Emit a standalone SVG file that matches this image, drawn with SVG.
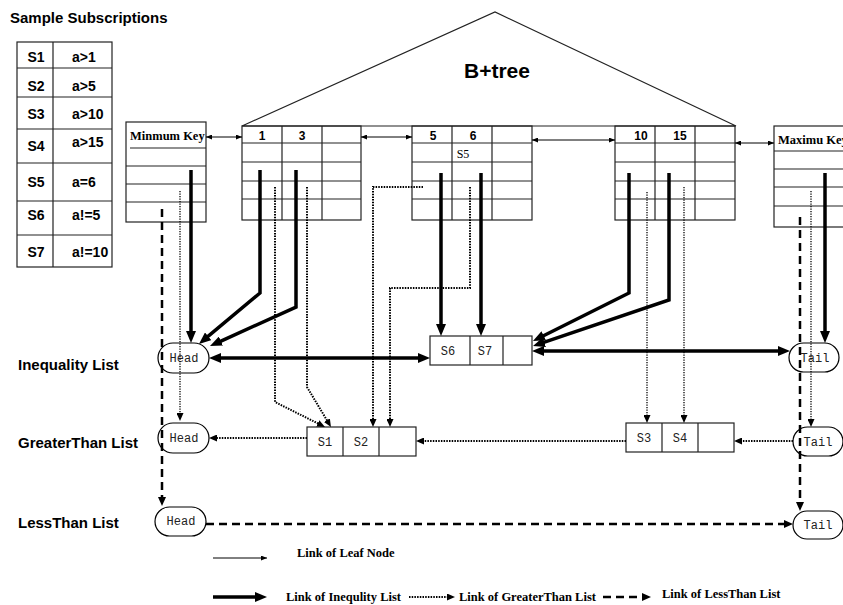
<svg xmlns="http://www.w3.org/2000/svg" width="843" height="605" viewBox="0 0 843 605">
<style>
.bx{fill:none;stroke:#222;stroke-width:1.2}
.ln{stroke:#222;stroke-width:1.2;fill:none}
.sans{font-family:"Liberation Sans",Arial,sans-serif;font-weight:bold;fill:#000}
.ser{font-family:"Liberation Serif","Times New Roman",serif;fill:#000}
.mono{font-family:"Liberation Mono","Courier New",monospace;font-size:12px;fill:#222}
.bold{stroke:#000;stroke-width:3.5;fill:none}
.dot{stroke:#000;stroke-width:2;stroke-dasharray:1.5 1.2;fill:none}
.dotT{stroke:#000;stroke-width:1.3;stroke-dasharray:1.3 1.2;fill:none}
.dash{stroke:#000;stroke-width:2.5;stroke-dasharray:8 5;fill:none}
.thin{stroke:#000;stroke-width:1;fill:none}
.pill{fill:none;stroke:#000;stroke-width:1.2}
</style>
<defs>
<marker id="mb" markerUnits="userSpaceOnUse" markerWidth="12" markerHeight="10" refX="3" refY="5" orient="auto-start-reverse"><path d="M0,0 L12,5 L0,10 z" fill="#000"/></marker>
<marker id="md" markerUnits="userSpaceOnUse" markerWidth="8" markerHeight="7" refX="2" refY="3.5" orient="auto-start-reverse"><path d="M0,0 L8,3.5 L0,7 z" fill="#000"/></marker>
<marker id="mda" markerUnits="userSpaceOnUse" markerWidth="9" markerHeight="8" refX="2" refY="4" orient="auto-start-reverse"><path d="M0,0 L9,4 L0,8 z" fill="#000"/></marker>
<marker id="mt" markerUnits="userSpaceOnUse" markerWidth="6" markerHeight="5" refX="6" refY="2.5" orient="auto-start-reverse"><path d="M0,0 L6,2.5 L0,5 z" fill="#000"/></marker>
</defs>
<rect width="843" height="605" fill="#fff"/>

<g id="title">
<text x="10" y="23" class="sans" font-size="15">Sample Subscriptions</text>
</g>

<g id="subscription-table">
<rect x="17" y="42" width="95" height="225" class="bx"/>
<path d="M53,42 V267 M17,68 H112 M17,97 H112 M17,129 H112 M17,163 H112 M17,201 H112 M17,235 H112" class="ln"/>
<g class="sans" font-size="14">
<text x="36" y="62" text-anchor="middle">S1</text><text x="72" y="62">a&gt;1</text>
<text x="36" y="91" text-anchor="middle">S2</text><text x="72" y="91">a&gt;5</text>
<text x="36" y="119" text-anchor="middle">S3</text><text x="72" y="119">a&gt;10</text>
<text x="36" y="151" text-anchor="middle">S4</text><text x="72" y="147">a&gt;15</text>
<text x="36" y="187" text-anchor="middle">S5</text><text x="72" y="187">a=6</text>
<text x="36" y="220" text-anchor="middle">S6</text><text x="72" y="220">a!=5</text>
<text x="36" y="257" text-anchor="middle">S7</text><text x="72" y="257">a!=10</text>
</g>
</g>

<g id="btree">
<path d="M242,126 L495,12 L736,126 Z" class="ln"/>
<text x="497" y="78" class="sans" font-size="21" text-anchor="middle">B+tree</text>
</g>

<g id="min-key">
<rect x="126" y="122" width="80" height="100" class="bx"/>
<path d="M130,148 H206 M126,166 H206 M126,184 H206 M126,202 H206" class="ln"/>
<text x="130" y="140" class="ser" font-weight="bold" font-size="12.5">Minmum Key</text>
</g>

<g id="leaf-1-3">
<rect x="242" y="126" width="119" height="94" class="bx"/>
<path d="M282,126 V220 M322,126 V220 M242,143 H361 M242,162 H361 M242,181 H361 M242,199 H361" class="ln"/>
<text x="262" y="140" class="sans" font-size="12" text-anchor="middle">1</text>
<text x="302" y="140" class="sans" font-size="12" text-anchor="middle">3</text>
</g>

<g id="leaf-5-6">
<rect x="412" y="126" width="120" height="94" class="bx"/>
<path d="M452,126 V220 M492,126 V220 M412,143 H532 M412,162 H532 M412,181 H532 M412,199 H532" class="ln"/>
<text x="433" y="140" class="sans" font-size="12" text-anchor="middle">5</text>
<text x="473" y="140" class="sans" font-size="12" text-anchor="middle">6</text>
<text x="463" y="158" class="ser" font-size="12" text-anchor="middle">S5</text>
</g>

<g id="leaf-10-15">
<rect x="615" y="126" width="120" height="94" class="bx"/>
<path d="M655,126 V220 M695,126 V220 M615,143 H735 M615,162 H735 M615,181 H735 M615,199 H735" class="ln"/>
<text x="641" y="140" class="sans" font-size="12" text-anchor="middle">10</text>
<text x="680" y="140" class="sans" font-size="12" text-anchor="middle">15</text>
</g>

<g id="max-key">
<rect x="774" y="126" width="100" height="101" class="bx"/>
<path d="M774,151 H843 M774,169 H843 M774,187 H843 M774,206 H843" class="ln"/>
<text x="778" y="144" class="ser" font-weight="bold" font-size="12.5">Maximu Key</text>
</g>

<g id="labels" class="sans" font-size="15">
<text x="18" y="370">Inequality List</text>
<text x="18" y="448">GreaterThan List</text>
<text x="18" y="528">LessThan List</text>
</g>

<g id="ineq-head"><rect x="158" y="343" width="51" height="30" rx="15" class="pill"/><text x="184" y="362" class="mono" text-anchor="middle">Head</text></g>
<g id="ineq-s6-s7"><rect x="430" y="336" width="102" height="29" class="bx"/><path d="M470,336 V365 M503,336 V365" class="ln"/><text x="448" y="355" class="mono" text-anchor="middle">S6</text><text x="485" y="355" class="mono" text-anchor="middle">S7</text></g>
<g id="ineq-tail"><rect x="789" y="343" width="50" height="29" rx="14.5" class="pill"/><text x="815" y="362" class="mono" text-anchor="middle">Tail</text></g>

<g id="gt-head"><rect x="158" y="423" width="51" height="30" rx="15" class="pill"/><text x="184" y="442" class="mono" text-anchor="middle">Head</text></g>
<g id="gt-s1-s2"><rect x="307" y="427" width="109" height="29" class="bx"/><path d="M343,427 V456 M379,427 V456" class="ln"/><text x="325" y="446" class="mono" text-anchor="middle">S1</text><text x="361" y="446" class="mono" text-anchor="middle">S2</text></g>
<g id="gt-s3-s4"><rect x="626" y="423" width="108" height="29" class="bx"/><path d="M662,423 V452 M698,423 V452" class="ln"/><text x="644" y="442" class="mono" text-anchor="middle">S3</text><text x="680" y="442" class="mono" text-anchor="middle">S4</text></g>
<g id="gt-tail"><rect x="793" y="427" width="50" height="29" rx="14.5" class="pill"/><text x="818" y="446" class="mono" text-anchor="middle">Tail</text></g>

<g id="lt-head"><rect x="155" y="507" width="51" height="29" rx="14.5" class="pill"/><text x="181" y="525" class="mono" font-size="11" text-anchor="middle">Head</text></g>
<g id="lt-tail"><rect x="793" y="511" width="50" height="28" rx="14" class="pill"/><text x="818" y="529" class="mono" font-size="11" text-anchor="middle">Tail</text></g>

<g id="connectors">
<!-- leaf links -->
<path d="M206,137 H242" class="thin" marker-start="url(#mt)" marker-end="url(#mt)"/>
<path d="M361,137 H412" class="thin" marker-start="url(#mt)" marker-end="url(#mt)"/>
<path d="M532,140 H615" class="thin" marker-start="url(#mt)" marker-end="url(#mt)"/>
<path d="M735,143 H774" class="thin" marker-start="url(#mt)" marker-end="url(#mt)"/>
<!-- inequality -->
<path d="M191,170 V334" class="bold" marker-end="url(#mb)"/>
<path d="M260,170 V293 L205.9,338.2" class="bold" marker-end="url(#mb)"/>
<path d="M296,170 V307 L218.2,342.3" class="bold" marker-end="url(#mb)"/>
<path d="M441,173 V327" class="bold" marker-end="url(#mb)"/>
<path d="M481,173 V327" class="bold" marker-end="url(#mb)"/>
<path d="M629,173 V293 L541,337" class="bold" marker-end="url(#mb)"/>
<path d="M669,173 V300 L541.5,343.1" class="bold" marker-end="url(#mb)"/>
<path d="M825,173 V334" class="bold" marker-end="url(#mb)"/>
<path d="M218,358 H421" class="bold" marker-start="url(#mb)" marker-end="url(#mb)"/>
<path d="M541,351 H781" class="bold" marker-start="url(#mb)" marker-end="url(#mb)"/>
<!-- greater than -->
<path d="M180,191 V415" class="dotT" marker-end="url(#md)"/>
<path d="M275,187 V402 L319.6,424.3" class="dot" marker-end="url(#md)"/>
<path d="M307,187 V387 L327.9,421.9" class="dot" marker-end="url(#md)"/>
<path d="M423,187 H373 V421" class="dot" marker-end="url(#md)"/>
<path d="M470,187 V288 H390 V421" class="dot" marker-end="url(#md)"/>
<path d="M647,192 V417" class="dotT" marker-end="url(#md)"/>
<path d="M684,187 V417" class="dotT" marker-end="url(#md)"/>
<path d="M811,191 V421" class="dotT" marker-end="url(#md)"/>
<path d="M307,438 H215" class="dot" marker-end="url(#md)"/>
<path d="M626,441 H422" class="dot" marker-end="url(#md)"/>
<path d="M793,441 H740" class="dot" marker-end="url(#md)"/>
<!-- less than -->
<path d="M162,209 V499" class="dash" marker-end="url(#mda)"/>
<path d="M800,217 V504" class="dash" marker-end="url(#mda)"/>
<path d="M206,524 H786" class="dash" marker-end="url(#mda)"/>
</g>

<g id="legend">
<path d="M213,558 H267" class="thin" marker-end="url(#mt)"/>
<text x="297" y="557" class="ser" font-weight="bold" font-size="12.5">Link of Leaf Node</text>
<path d="M213,597 H258" class="bold" marker-end="url(#mb)"/>
<text x="286" y="601" class="ser" font-weight="bold" font-size="12.5">Link of Inequlity List</text>
<path d="M409,597 H449" class="dot" marker-end="url(#md)"/>
<text x="459" y="601" class="ser" font-weight="bold" font-size="12.5">Link of GreaterThan List</text>
<path d="M603,597 H644" class="dash" marker-end="url(#mda)"/>
<text x="662" y="598" class="ser" font-weight="bold" font-size="12.5">Link of LessThan List</text>
</g>
</svg>
